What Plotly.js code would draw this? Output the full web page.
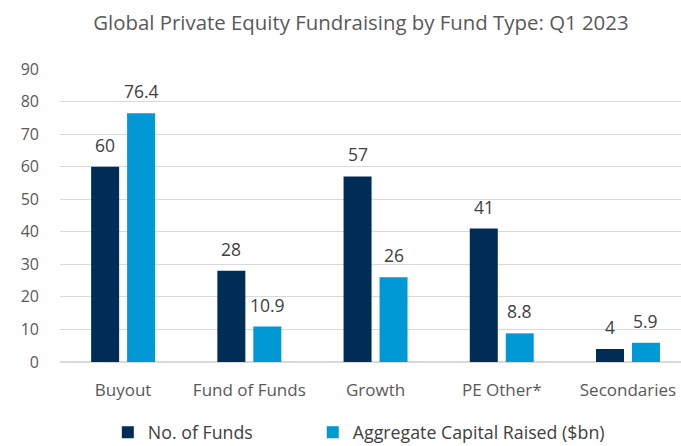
<!DOCTYPE html>
<html>
<head>
<meta charset="utf-8">
<script src="https://cdn.plot.ly/plotly-3.0.1.min.js"></script>
<style>html,body{margin:0;padding:0;background:#fff;}#chart{width:681px;height:446px;}</style>
</head>
<body>
<div id="chart"></div>
<script>
const categories = ["Buyout", "Fund of Funds", "Growth", "PE Other*", "Secondaries"];
const numFunds = [60, 28, 57, 41, 4];
const capitalRaised = [76.4, 10.9, 26, 8.8, 5.9];
const seriesNames = ["No. of Funds", "Aggregate Capital Raised ($bn)"];
const yTicks = [0, 10, 20, 30, 40, 50, 60, 70, 80, 90];

const FONT = "Open Sans, Noto Sans, sans-serif";
const BARGAP = 0.43;
const colors = ["#002D56", "#0099D5"];
const series = [numFunds, capitalRaised];

const traces = series.map((vals, i) => ({
  type: "bar", name: seriesNames[i], x: categories, y: vals,
  marker: {color: colors[i]}, textposition: "none", hoverinfo: "none",
  legend: i === 0 ? "legend" : "legend2"
}));

// value labels placed above each bar via the axis scales
const slotHalf = (1 - BARGAP) / 4;
const annotations = [];
series.forEach((vals, i) => {
  vals.forEach((v, j) => {
    annotations.push({
      xref: "x", yref: "y", x: j + (i === 0 ? -slotHalf : slotHalf), y: v,
      text: String(v), showarrow: false, yanchor: "middle", yshift: 22,
      font: {family: FONT, size: 17.5, color: "#404040"}
    });
  });
});

const legendBase = {orientation: "h", xref: "paper", yref: "container", y: 0.03, yanchor: "middle",
  xanchor: "left", bgcolor: "rgba(0,0,0,0)", itemwidth: 30,
  font: {family: FONT, size: 17.8, color: "#404040"}};

const layout = {
  width: 681, height: 446,
  margin: {l: 60, r: 0, t: 69, b: 84, autoexpand: false},
  paper_bgcolor: "#fff", plot_bgcolor: "#fff",
  font: {family: FONT, color: "#595959", size: 16},
  title: {text: "Global Private Equity Fundraising by Fund Type: Q1 2023", xref: "container", x: 0.53, xanchor: "center",
          yref: "container", y: 0.948, yanchor: "middle",
          font: {family: FONT, size: 20.4, color: "#595959"}},
  barmode: "group", bargap: BARGAP, bargroupgap: 0.222,
  xaxis: {range: [-0.5, 4.42], showgrid: false, zeroline: false, showline: false, ticks: "",
          ticklabelstandoff: 16, tickfont: {family: FONT, size: 17, color: "#595959"}},
  yaxis: {range: [0, 90], tickvals: yTicks, ticktext: yTicks.map(String), showgrid: true, gridcolor: "#d9d9d9", gridwidth: 1,
          zeroline: true, zerolinecolor: "#d9d9d9", zerolinewidth: 2, ticks: "", ticklabelstandoff: 20,
          tickfont: {family: FONT, size: 16, color: "#595959"}},
  showlegend: true,
  legend: Object.assign({}, legendBase, {x: 0.077}),
  legend2: Object.assign({}, legendBase, {x: 0.407}),
  annotations: annotations
};
Plotly.newPlot("chart", traces, layout, {displayModeBar: false, staticPlot: true});
</script>
</body>
</html>
